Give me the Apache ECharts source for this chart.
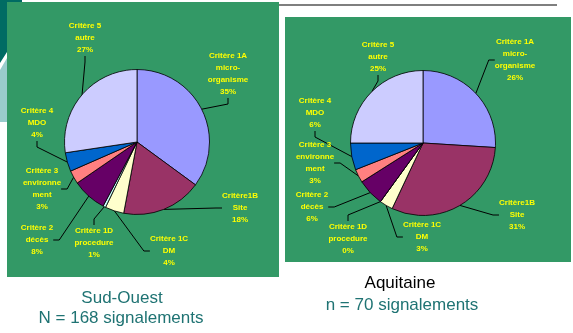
<!DOCTYPE html>
<html>
<head>
<meta charset="utf-8">
<script src="https://cdn.jsdelivr.net/npm/echarts@6/dist/echarts.min.js"></script>
<style>
html,body{margin:0;padding:0;background:#fff;}
#chart{width:573px;height:333px;}
</style>
</head>
<body>
<div id="chart"></div>
<script>
const categories = ['Critère 1A\nmicro-\norganisme', 'Critère1B\nSite', 'Critère 1C\nDM', 'Critère 1D\nprocedure', 'Critère 2\ndécès', 'Critère 3\nenvironne\nment', 'Critère 4\nMDO', 'Critère 5\nautre'];
const sudOuestValues = [35.1, 17.9, 4.2, 0.6, 7.7, 3.0, 4.2, 27.4];
const aquitaineValues = [26, 31, 3, 0, 6, 3, 6, 25];
const sudOuestCaption = ['Sud-Ouest', 'N = 168 signalements'];
const aquitaineCaption = ['Aquitaine', 'n = 70 signalements'];

const colors = ['#9999FF', '#993366', '#FFFFCC', '#CCFFFF', '#660066', '#FF8080', '#0066CC', '#CCCCFF'];
const labelPos = [
  [[228, 74], [240, 208], [169, 251], [94, 243], [37, 240], [42, 189], [37, 123], [85, 38]],
  [[515, 60], [517, 215], [422, 237], [348, 239], [312, 207], [315, 163], [315, 113], [378, 57]]
];
const FONT = '"Liberation Sans", Arial, sans-serif';

function makeSeries(values, center) {
  return {
    type: 'pie',
    center: center,
    radius: 72.5,
    startAngle: 90,
    clockwise: true,
    avoidLabelOverlap: false,
    animation: false,
    data: categories.map((c, i) => ({ name: c, value: values[i], itemStyle: { color: colors[i] } })),
    itemStyle: { borderColor: '#000', borderWidth: 0.8 },
    label: {
      show: true,
      formatter: p => p.name + '\n' + Math.round(p.percent) + '%',
      color: '#FFFF00',
      fontFamily: FONT,
      fontWeight: 'bold',
      fontSize: 8,
      lineHeight: 12,
      align: 'center'
    },
    labelLine: { show: true, length: 8, length2: 6, lineStyle: { color: '#000', width: 1 } },
    emphasis: { disabled: true },
    labelLayout: function (p) {
      const pos = labelPos[p.seriesIndex][p.dataIndex];
      return { x: pos[0], y: pos[1], align: 'center', verticalAlign: 'middle' };
    }
  };
}

const chart = echarts.init(document.getElementById('chart'), null, { renderer: 'canvas' });
chart.setOption({
  backgroundColor: '#fff',
  animation: false,
  graphic: [
    { type: 'polygon', z: -10, shape: { points: [[0,0],[22,0],[22,3],[7,3],[7,52],[0,63]] }, style: { fill: '#006B63' } },
    { type: 'polygon', z: -10, shape: { points: [[0,70],[7,58],[7,122],[0,122]] }, style: { fill: '#99CCCC' } },
    { type: 'rect', z: -5, shape: { x: 7, y: 2, width: 272, height: 275 }, style: { fill: '#339966' } },
    { type: 'rect', z: -5, shape: { x: 285, y: 17, width: 286, height: 245 }, style: { fill: '#339966' } },
    { type: 'rect', z: -5, shape: { x: 279, y: 4, width: 278, height: 2 }, style: { fill: '#7F7F7F' } },
    { type: 'text', x: 122, y: 298, style: { text: sudOuestCaption[0], fill: '#1F7373', font: '17px ' + FONT, textAlign: 'center', textVerticalAlign: 'middle' } },
    { type: 'text', x: 121, y: 318, style: { text: sudOuestCaption[1], fill: '#1F7373', font: '17px ' + FONT, textAlign: 'center', textVerticalAlign: 'middle' } },
    { type: 'text', x: 400, y: 283, style: { text: aquitaineCaption[0], fill: '#000', font: '17px ' + FONT, textAlign: 'center', textVerticalAlign: 'middle' } },
    { type: 'text', x: 402, y: 305, style: { text: aquitaineCaption[1], fill: '#1F7373', font: '17px ' + FONT, textAlign: 'center', textVerticalAlign: 'middle' } }
  ],
  series: [
    makeSeries(sudOuestValues, [137, 142]),
    makeSeries(aquitaineValues, [423, 143])
  ]
});
</script>
</body>
</html>
